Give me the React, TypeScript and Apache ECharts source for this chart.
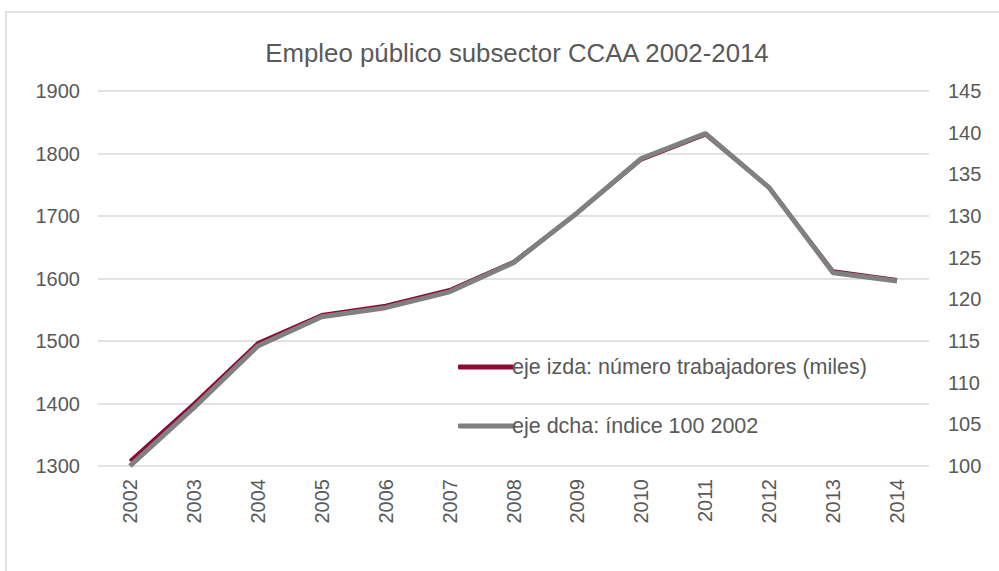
import React, { useEffect, useRef } from "react";
import * as echarts from "echarts";

const years = ["2002", "2003", "2004", "2005", "2006", "2007", "2008", "2009", "2010", "2011", "2012", "2013", "2014"];
const workers = [1308, 1400, 1497, 1542, 1557, 1582, 1627, 1705, 1790, 1830, 1745, 1612, 1598];
const index100 = [100, 107.0, 114.4, 117.9, 119.0, 120.9, 124.4, 130.4, 136.9, 139.9, 133.4, 123.2, 122.2];
const titleText = "Empleo público subsector CCAA 2002-2014";
const topText = "Gráfico 3";
const seriesNames = ["eje izda: número trabajadores (miles)", "eje dcha: índice 100 2002"];

const FONT = "'Liberation Sans', Arial, sans-serif";
const TXT = "#595959";

export default function App() {
  const ref = useRef<HTMLDivElement>(null);
  useEffect(() => {
    if (!ref.current) return;
    const chart = echarts.init(ref.current, null, { renderer: "svg" });
    chart.setOption({
      animation: false,
      backgroundColor: "#ffffff",
      textStyle: { fontFamily: FONT },
      title: {
        text: titleText,
        left: 512,
        top: 35,
        textAlign: "center",
        textStyle: { fontFamily: FONT, fontSize: 25.8, fontWeight: "normal", color: TXT },
      },
      graphic: [
        {
          type: "rect",
          shape: { x: 6, y: 12, width: 1100, height: 700 },
          style: { fill: "none", stroke: "#d9d9d9", lineWidth: 1.5 },
          silent: true,
        },
        {
          type: "text",
          x: 560,
          y: 2,
          style: {
            text: topText,
            fontFamily: FONT,
            fontSize: 20,
            fontWeight: "bold",
            fill: TXT,
            textAlign: "center",
            textVerticalAlign: "bottom",
          },
          silent: true,
        },
      ],
      legend: {
        orient: "vertical",
        left: 453,
        top: 351,
        itemGap: 37,
        itemWidth: 56,
        itemHeight: 5,
        icon: "roundRect",
        textStyle: { fontFamily: FONT, fontSize: 21.5, color: TXT, padding: [0, 0, 0, -7] },
        data: seriesNames,
      },
      grid: { left: 98, right: 70, top: 91, bottom: 105, containLabel: false },
      xAxis: {
        type: "category",
        data: years,
        boundaryGap: true,
        axisLine: { show: false },
        axisTick: { show: false },
        axisLabel: { rotate: 90, fontFamily: FONT, fontSize: 20, color: TXT, margin: 13 },
      },
      yAxis: [
        {
          type: "value",
          min: 1300,
          max: 1900,
          interval: 100,
          position: "left",
          axisLine: { show: false },
          axisTick: { show: false },
          axisLabel: { fontFamily: FONT, fontSize: 20, color: TXT, margin: 18, formatter: (v: number) => String(v) },
          splitLine: { lineStyle: { color: "#d9d9d9", width: 1.5 } },
        },
        {
          type: "value",
          min: 100,
          max: 145,
          interval: 5,
          position: "right",
          axisLine: { show: false },
          axisTick: { show: false },
          axisLabel: { fontFamily: FONT, fontSize: 20, color: TXT, margin: 19, formatter: (v: number) => String(v) },
          splitLine: { show: false },
        },
      ],
      series: [
        {
          name: seriesNames[0],
          type: "line",
          yAxisIndex: 0,
          data: workers,
          showSymbol: false,
          symbol: "none",
          lineStyle: { color: "#8b0a31", width: 3.5 },
          itemStyle: { color: "#8b0a31" },
          z: 2,
        },
        {
          name: seriesNames[1],
          type: "line",
          yAxisIndex: 1,
          data: index100,
          showSymbol: false,
          symbol: "none",
          lineStyle: { color: "#808080", width: 5 },
          itemStyle: { color: "#808080" },
          z: 3,
        },
      ],
    });
    return () => chart.dispose();
  }, []);
  return <div ref={ref} style={{ position: "fixed", left: 0, top: 0, width: 999, height: 571 }} />;
}
